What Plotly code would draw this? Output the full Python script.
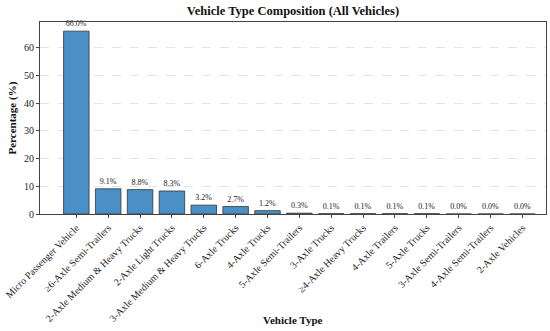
import plotly.graph_objects as go

categories = [
    "Micro Passenger Vehicle", "≥6-Axle Semi-Trailers", "2-Axle Medium & Heavy Trucks",
    "2-Axle Light Trucks", "3-Axle Medium & Heavy Trucks", "6-Axle Trucks", "4-Axle Trucks",
    "5-Axle Semi-Trailers", "3-Axle Trucks", "≥4-Axle Heavy Trucks", "4-Axle Trailers",
    "5-Axle Trucks", "3-Axle Semi-Trailers", "4-Axle Semi-Trailers", "2-Axle Vehicles",
]
percentages = [66.0, 9.1, 8.8, 8.3, 3.2, 2.7, 1.2, 0.3, 0.1, 0.1, 0.1, 0.1, 0.0, 0.0, 0.0]
y_ticks = [0, 10, 20, 30, 40, 50, 60]

FONT = "Liberation Serif, Times New Roman, serif"

fig = go.Figure(go.Bar(
    x=list(range(len(categories))), y=percentages,
    marker=dict(color="#4a90c6", line=dict(color="#333333", width=0.8)),
    width=0.8,
    text=[f"{v:.1f}%" for v in percentages], textposition="outside",
    textfont=dict(family=FONT, size=8, color="#222"), constraintext="none",
    cliponaxis=False,
))

fig.update_layout(
    width=550, height=331, plot_bgcolor="white", paper_bgcolor="white",
    margin=dict(l=40, r=4, t=22, b=117),
    font=dict(family=FONT, color="#222"),
    showlegend=False,
    title=dict(text="<b>Vehicle Type Composition (All Vehicles)</b>", x=0.5, xanchor="center",
               xref="paper",
               y=1 - 11 / 331, yanchor="middle", font=dict(size=12.5, family=FONT, color="#111")),
)
fig.update_xaxes(
    range=[-1.14, 14.74], tickmode="array", tickvals=list(range(len(categories))),
    ticktext=categories, tickangle=-45, tickfont=dict(size=10, family=FONT, color="#222"),
    ticks="outside", ticklen=3, tickcolor="#444", showgrid=False, automargin=False,
    showline=True, linecolor="#444", linewidth=1, mirror=True, zeroline=False,
)
fig.update_yaxes(
    range=[0, 69.3], tickvals=y_ticks, tickfont=dict(size=10, family=FONT, color="#222"),
    ticks="outside", ticklen=3, tickcolor="#444", automargin=False,
    showgrid=True, gridcolor="#e3e3e3", griddash="dash", gridwidth=0.7,
    showline=True, linecolor="#444", linewidth=1, mirror=True, zeroline=False,
)
fig.add_annotation(text="<b>Percentage (%)</b>", xref="paper", yref="paper", x=0, y=0.5,
                   xshift=-20, textangle=-90, showarrow=False,
                   font=dict(size=11, family=FONT, color="#111"), xanchor="right", yanchor="middle")
fig.add_annotation(text="<b>Vehicle Type</b>", xref="paper", yref="paper", x=0.5, y=0,
                   yshift=-106, showarrow=False,
                   font=dict(size=11, family=FONT, color="#111"), xanchor="center", yanchor="middle")

fig.write_html("out.html", config={"displayModeBar": False},
               post_script="document.body.style.margin='0';document.body.style.overflow='hidden';")
